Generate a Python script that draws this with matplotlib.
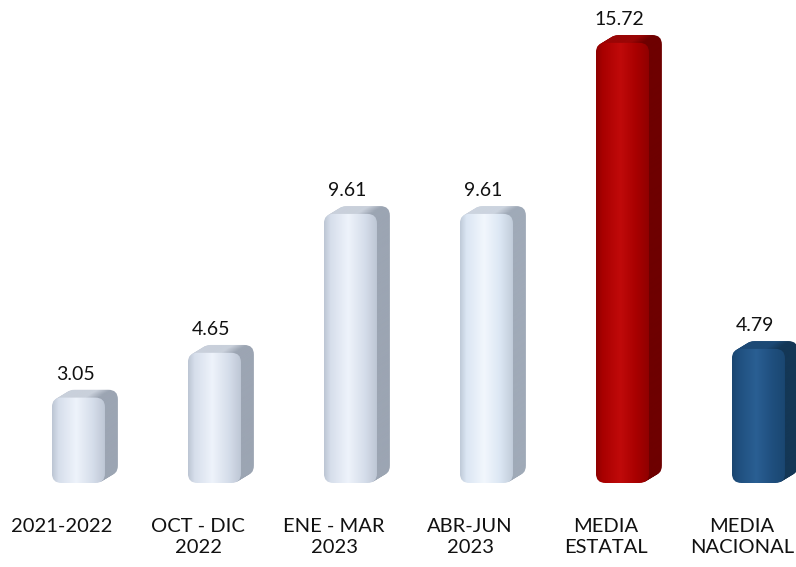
import numpy as np
import matplotlib.pyplot as plt
from matplotlib.patches import FancyBboxPatch

categories = ['2021-2022', 'OCT - DIC\n2022', 'ENE - MAR\n2023', 'ABR-JUN\n2023', 'MEDIA\nESTATAL', 'MEDIA\nNACIONAL']
values = [3.05, 4.65, 9.61, 9.61, 15.72, 4.79]
value_labels = ['3.05', '4.65', '9.61', '9.61', '15.72', '4.79']
bar_styles = ['light', 'light', 'light', 'pale', 'red', 'blue']

# front / highlight / edge / side / top colours per style
PALETTE = {
    'light': ('#d6deeb', '#eef3fb', '#bcc5d3', '#9ca5b3', '#c9d0db'),
    'pale': ('#dbe6f3', '#f2f7fd', '#bfcad8', '#a0aab8', '#ccd4df'),
    'red': ('#a80000', '#c00a0a', '#8e0000', '#6e0000', '#9a0606'),
    'blue': ('#1f4f7e', '#2a5f93', '#1a4670', '#143756', '#1d4a76'),
}

PX_X = 136.0   # pixels per x unit
PX_Y = 28.0    # pixels per y unit
ASPECT = PX_X / PX_Y
FRONT_LEFT = -0.074
FRONT_W = 0.39
DX = 0.095
DY = 0.28
ROUND = 0.07
STEPS = 14

plt.rcParams['font.family'] = ['Lato', 'DejaVu Sans']

fig = plt.figure(figsize=(7.96, 5.67), dpi=100)
ax = fig.add_axes([0, 84 / 567, 1, 483 / 567])
ax.set_xlim(-62 / PX_X, 734 / PX_X)
ax.set_ylim(0, 483 / PX_Y)
ax.axis('off')


def gradient_patch(ax, x0, y0, w, h, stops, zorder):
    box = FancyBboxPatch((x0, y0), w, h, boxstyle=f'round,pad=0,rounding_size={ROUND}',
                         mutation_aspect=ASPECT, fc='none', ec='none', zorder=zorder)
    ax.add_patch(box)
    t = np.linspace(0, 1, 200)
    pos = [s[0] for s in stops]
    rgb = np.array([plt.matplotlib.colors.to_rgb(s[1]) for s in stops])
    img = np.stack([np.interp(t, pos, rgb[:, k]) for k in range(3)], axis=-1)[None, :, :]
    im = ax.imshow(img, extent=(x0, x0 + w, y0, y0 + h), aspect='auto',
                   interpolation='bilinear', zorder=zorder)
    im.set_clip_path(box)


for i, (v, style) in enumerate(zip(values, bar_styles)):
    front, hi, edge, side, top = PALETTE[style]
    x0 = i + FRONT_LEFT
    # extruded body (side + top), drawn back to front
    for k in range(STEPS, 0, -1):
        f = k / STEPS
        gradient_patch(ax, x0 + DX * f, DY * f, FRONT_W, v,
                       [(0, top), (0.6, top), (0.85, side), (1, side)], zorder=2)
    # front face
    gradient_patch(ax, x0, 0, FRONT_W, v,
                   [(0, edge), (0.12, front), (0.45, hi), (0.75, front), (1, edge)], zorder=3)
    ax.text(i + 0.096, v + DY + 0.55, value_labels[i], ha='center', va='center',
            fontsize=14, color='#111111', zorder=5)
    ax.text(i, -35 / PX_Y, categories[i], ha='center', va='top', fontsize=14.5,
            linespacing=1.3, color='#111111', clip_on=False)

fig.savefig('out.png', dpi=100)
